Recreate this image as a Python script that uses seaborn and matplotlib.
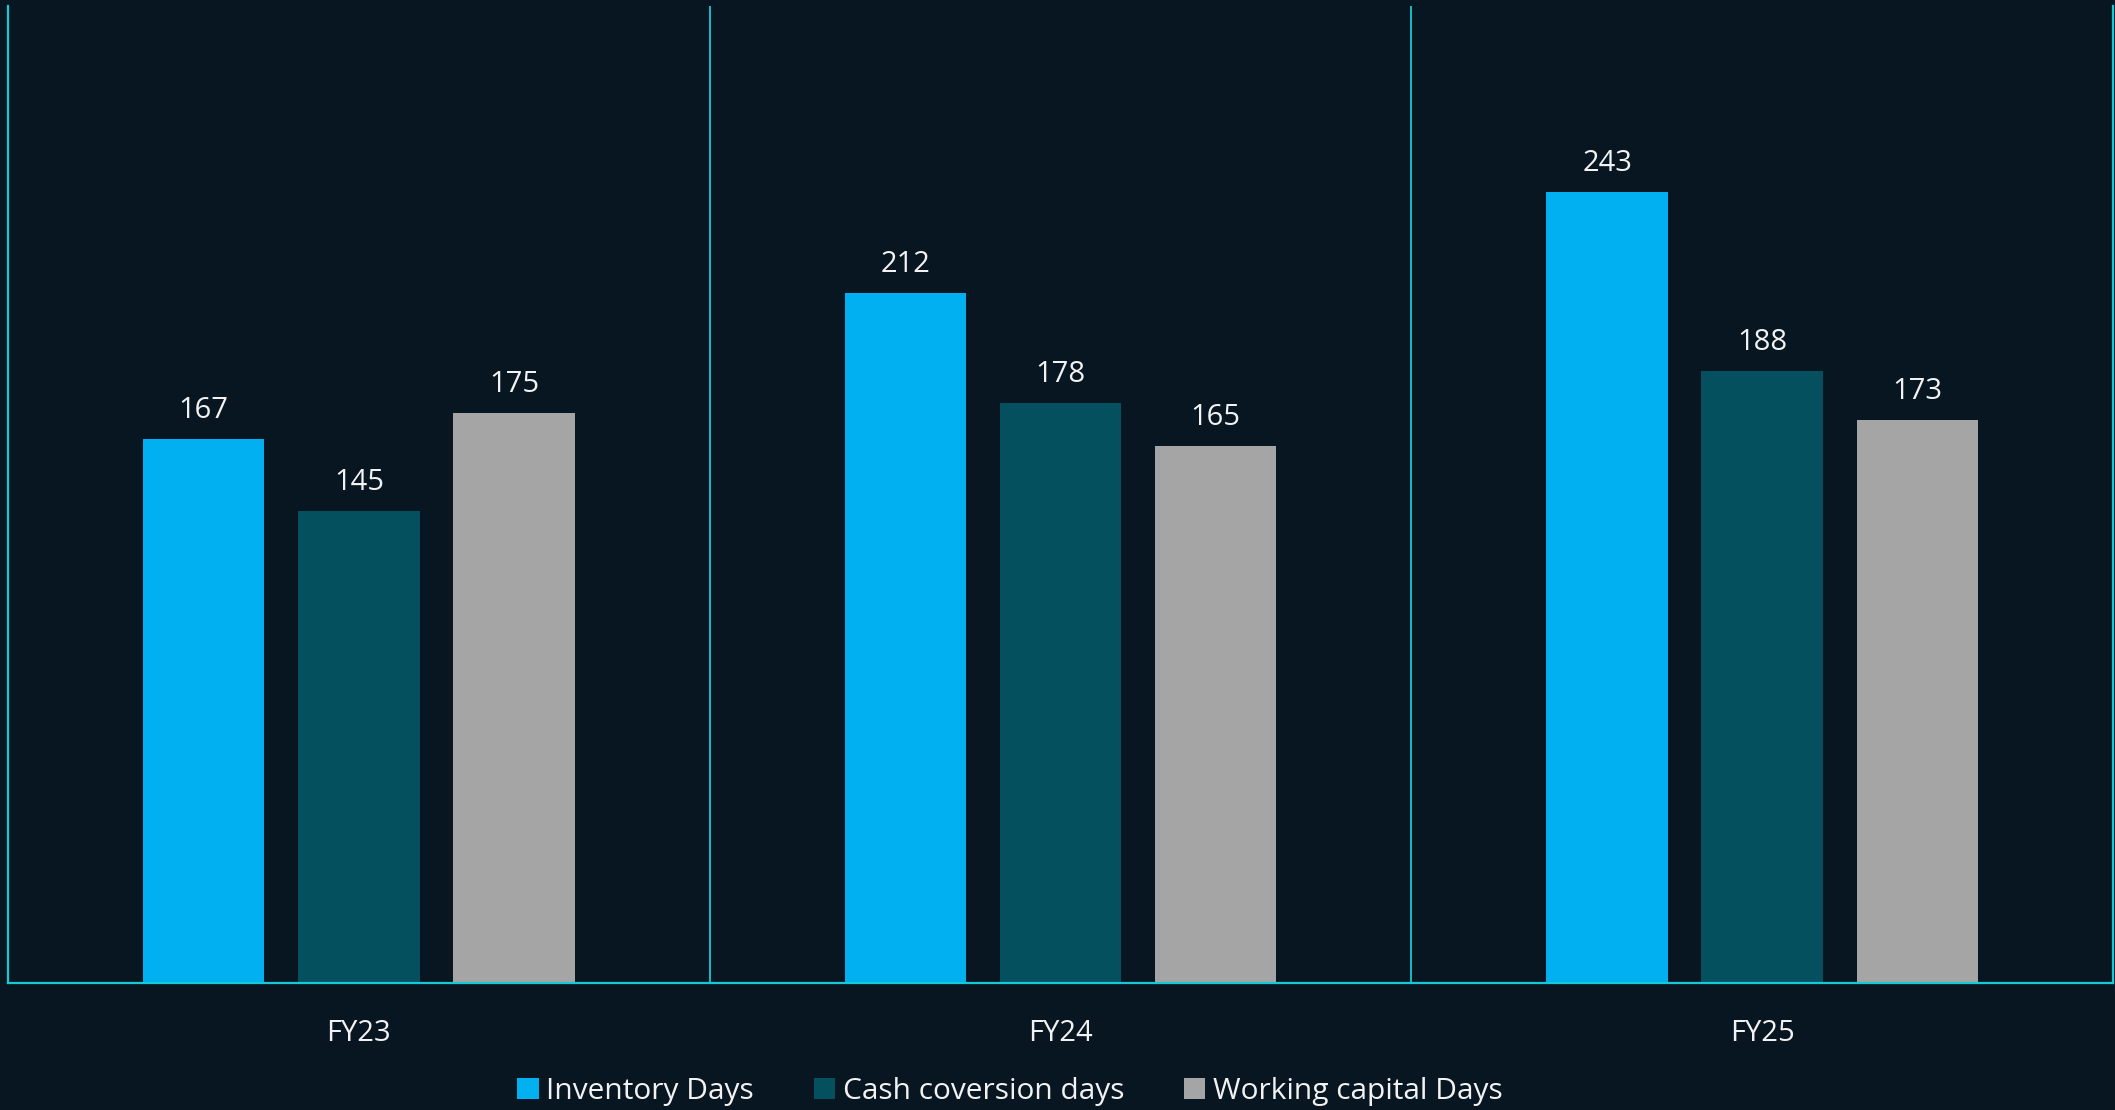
import pandas as pd
import matplotlib
matplotlib.use('Agg')
import matplotlib.pyplot as plt
import seaborn as sns

# Chart data
years = ['FY23', 'FY24', 'FY25']
inventory_days = [167, 212, 243]
cash_conversion_days = [145, 178, 188]
working_capital_days = [175, 165, 173]
series_names = ['Inventory Days', 'Cash coversion days', 'Working capital Days']
series_colors = ['#00B0F0', '#05505F', '#A5A5A5']

df = pd.DataFrame({
    'year': years * 3,
    'days': inventory_days + cash_conversion_days + working_capital_days,
    'metric': [s for s in series_names for _ in years],
})

sns.set_style('dark')
plt.rcParams['font.family'] = ['Open Sans', 'DejaVu Sans']

bg = '#081622'
line_col = '#17C9D6'

fig = plt.figure(figsize=(21.15, 11.1), dpi=100, facecolor=bg)
ax = fig.add_axes([8 / 2115, 1 - 983 / 1110, 2105 / 2115, 977 / 1110])
ax.set_facecolor(bg)

sns.barplot(data=df, x='year', y='days', hue='metric', hue_order=series_names,
            palette=series_colors, saturation=1, width=0.663, gap=0.217,
            edgecolor='none', linewidth=0, ax=ax)

for cont in ax.containers:
    ax.bar_label(cont, fmt='%d', padding=10, color='#F2F2F2', fontsize=21)

ax.set_xlim(-0.5, 2.5)
ax.set_ylim(0, 300)
ax.set_xlabel('')
ax.set_ylabel('')
ax.set_yticks([])
ax.grid(False)
ax.tick_params(axis='x', length=0, pad=26, labelsize=21, labelcolor='#F2F2F2')

for side in ['left', 'right', 'bottom']:
    ax.spines[side].set_visible(True)
    ax.spines[side].set_color(line_col)
    ax.spines[side].set_linewidth(1.6)
ax.spines['top'].set_visible(False)
for x in [0.5, 1.5]:
    ax.axvline(x, color=line_col, lw=1.3)

handles, labels = ax.get_legend_handles_labels()
ax.get_legend().remove()
for h in handles:
    h.set_edgecolor('none')
    h.set_linewidth(0)
leg = fig.legend(handles, labels, loc='center', bbox_to_anchor=(1010 / 2115, 0.017),
                 ncol=3, frameon=False, fontsize=21.5, handlelength=0.72, handleheight=0.72,
                 handletextpad=0.25, columnspacing=2.0, labelcolor='#F2F2F2')

plt.savefig('out.png', dpi=100, facecolor=bg)
